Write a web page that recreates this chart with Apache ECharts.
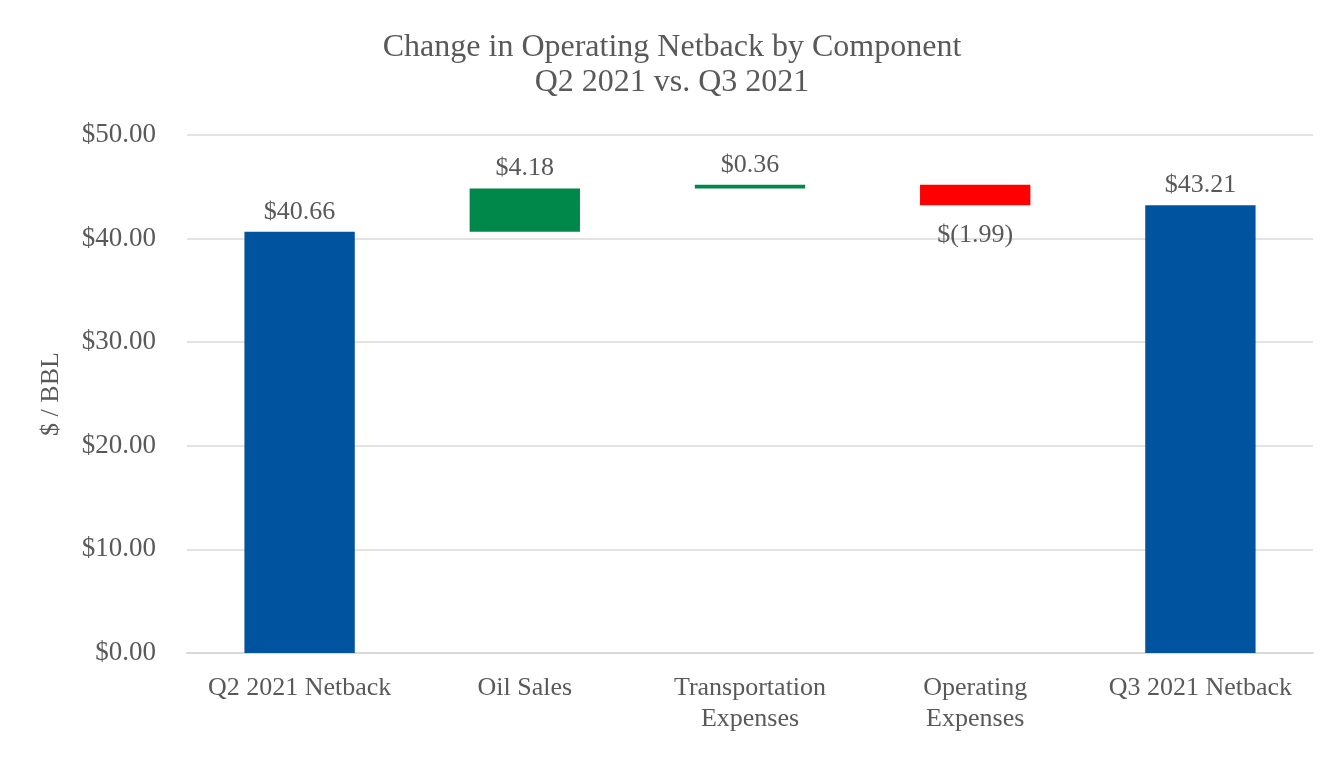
<!DOCTYPE html>
<html>
<head>
<meta charset="utf-8">
<script src="https://cdn.jsdelivr.net/npm/echarts@6/dist/echarts.min.js"></script>
<style>html,body{margin:0;padding:0;background:#fff}#c{width:1344px;height:760px}</style>
</head>
<body>
<div id="c"></div>
<script>
const categories = ['Q2 2021 Netback', 'Oil Sales', 'Transportation\nExpenses', 'Operating\nExpenses', 'Q3 2021 Netback'];
const startValue = 40.66;
const changes = [4.18, 0.36, -1.99];
const endValue = 43.21;
const yTicks = [0, 10, 20, 30, 40, 50];

const BLUE = '#00539F', GREEN = '#00884A', RED = '#FF0000';
const FONT = '"Liberation Serif", "Times New Roman", serif';
const TXT = '#595959';

const base = [], vis = [], signed = [];
base.push(0); vis.push(startValue); signed.push(startValue);
let run = startValue;
changes.forEach(c => {
  const lo = c >= 0 ? run : run + c;
  base.push(+lo.toFixed(2)); vis.push(Math.abs(c)); signed.push(c);
  run += c;
});
base.push(0); vis.push(endValue); signed.push(endValue);

const colorFor = (i) => (i === 0 || i === categories.length - 1) ? BLUE : (signed[i] >= 0 ? GREEN : RED);
const fmt = v => v < 0 ? '$(' + Math.abs(v).toFixed(2) + ')' : '$' + v.toFixed(2);

const chart = echarts.init(document.getElementById('c'), null, {renderer: 'canvas'});
chart.setOption({
  animation: false,
  backgroundColor: '#fff',
  textStyle: {fontFamily: FONT},
  title: {
    text: 'Change in Operating Netback by Component\nQ2 2021 vs. Q3 2021',
    left: 'center', top: 25,
    textStyle: {fontFamily: FONT, fontSize: 32, fontWeight: 'normal', color: TXT, lineHeight: 35}
  },
  grid: {left: 187, right: 31, top: 135, bottom: 107},
  xAxis: {
    type: 'category', data: categories,
    axisLine: {lineStyle: {color: '#d9d9d9', width: 2}},
    axisTick: {show: false},
    axisLabel: {fontFamily: FONT, fontSize: 26, color: TXT, margin: 20, lineHeight: 31, interval: 0}
  },
  yAxis: {
    type: 'value', min: yTicks[0], max: yTicks[yTicks.length - 1], interval: 10,
    name: '$ / BBL', nameLocation: 'middle', nameGap: 123, nameRotate: 90,
    nameTextStyle: {fontFamily: FONT, fontSize: 26, color: TXT},
    axisLine: {show: false}, axisTick: {show: false},
    axisLabel: {fontFamily: FONT, fontSize: 27, color: TXT, margin: 31, formatter: v => '$' + v.toFixed(2)},
    splitLine: {lineStyle: {color: '#e3e3e3', width: 2}}
  },
  series: [
    {
      type: 'bar', stack: 'w', data: base, barWidth: '49%',
      itemStyle: {color: 'transparent'}, silent: true
    },
    {
      type: 'bar', stack: 'w', barWidth: '49%',
      data: vis.map((v, i) => ({
        value: v,
        itemStyle: {color: colorFor(i)},
        label: {
          show: true,
          position: signed[i] < 0 ? 'bottom' : 'top',
          distance: signed[i] < 0 ? 17 : 7,
          formatter: () => fmt(signed[i]),
          fontFamily: FONT, fontSize: 26, color: TXT
        }
      }))
    }
  ]
});
</script>
</body>
</html>
